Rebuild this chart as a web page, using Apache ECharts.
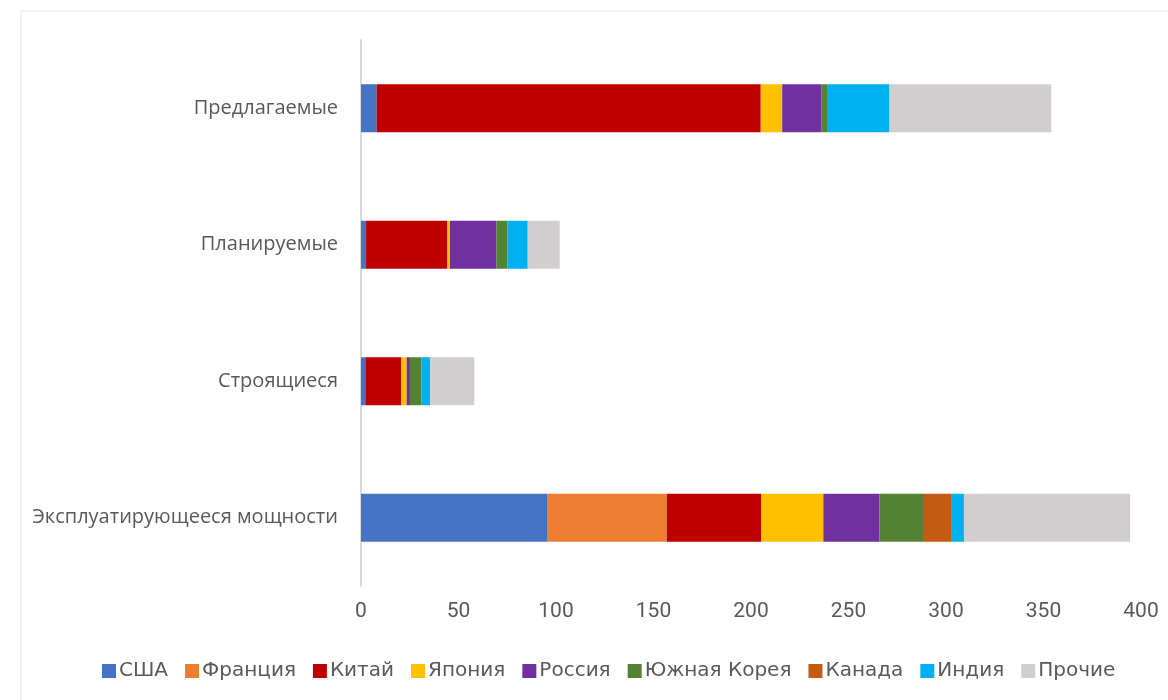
<!DOCTYPE html>
<html>
<head>
<meta charset="utf-8">
<script src="https://cdn.jsdelivr.net/npm/echarts@6/dist/echarts.min.js"></script>
<style>
  html, body { margin: 0; padding: 0; background: #fff; }
  .frame { position: absolute; left: 20px; top: 10px; width: 1160px; height: 700px; border: 2px solid #f2f2f2; box-sizing: border-box; }
  #chart { position: absolute; left: 0; top: 0; width: 1168px; height: 700px; }
</style>
</head>
<body>
<div class="frame"></div>
<div id="chart"></div>
<script>
  // категории снизу вверх
  const categories = ['Эксплуатирующееся мощности', 'Строящиеся', 'Планируемые', 'Предлагаемые']
  const xTicks = [0, 50, 100, 150, 200, 250, 300, 350, 400]

  const usa = [95.4, 2.2, 2.6, 8]
  const france = [61.4, 0, 0, 0]
  const china = [48.5, 18.3, 41.5, 197]
  const japan = [31.8, 2.9, 1.5, 11]
  const russia = [28.7, 1.7, 23.8, 20]
  const korea = [22.9, 5.8, 5.6, 3]
  const canada = [13.9, 0, 0, 0]
  const india = [6.6, 4.6, 10.5, 32]
  const other = [85.2, 22.6, 16.4, 83]

  const seriesList = [
    { name: 'США', data: usa, color: '#4472C4' },
    { name: 'Франция', data: france, color: '#ED7D31' },
    { name: 'Китай', data: china, color: '#C00000' },
    { name: 'Япония', data: japan, color: '#FFC000' },
    { name: 'Россия', data: russia, color: '#7030A0' },
    { name: 'Южная Корея', data: korea, color: '#548235' },
    { name: 'Канада', data: canada, color: '#C55A11' },
    { name: 'Индия', data: india, color: '#00B0F0' },
    { name: 'Прочие', data: other, color: '#D0CECE' }
  ]

  let myChart = echarts.init(document.getElementById('chart'))
  myChart.setOption({
    animation: false,
    grid: {
      left: 361,
      right: 27,
      top: 40,
      bottom: 114,
      containLabel: false
    },
    legend: {
      left: 97,
      top: 656,
      itemWidth: 14,
      itemHeight: 14,
      itemGap: 17,
      icon: 'rect',
      textStyle: {
        color: '#595959',
        fontSize: 20,
        fontFamily: '"DejaVu Sans", sans-serif',
        padding: [0, 0, 0, -2]
      },
      data: seriesList.map(s => s.name)
    },
    xAxis: {
      type: 'value',
      min: 0,
      max: 400,
      interval: 50,
      axisLabel: {
        color: '#595959',
        fontSize: 21,
        fontFamily: 'Roboto, sans-serif',
        margin: 15,
        formatter: v => xTicks.indexOf(v) >= 0 ? String(v) : ''
      },
      axisLine: { show: false },
      axisTick: { show: false },
      splitLine: { show: false }
    },
    yAxis: {
      type: 'category',
      data: categories,
      axisLabel: {
        color: '#595959',
        fontSize: 20,
        fontFamily: '"Open Sans", "Noto Sans", sans-serif',
        margin: 23
      },
      axisLine: {
        show: true,
        lineStyle: { color: '#d9d9d9', width: 2 }
      },
      axisTick: { show: false }
    },
    series: seriesList.map(s => ({
      type: 'bar',
      name: s.name,
      stack: 'total',
      data: s.data,
      barWidth: 48,
      itemStyle: { color: s.color }
    }))
  })
</script>
</body>
</html>
